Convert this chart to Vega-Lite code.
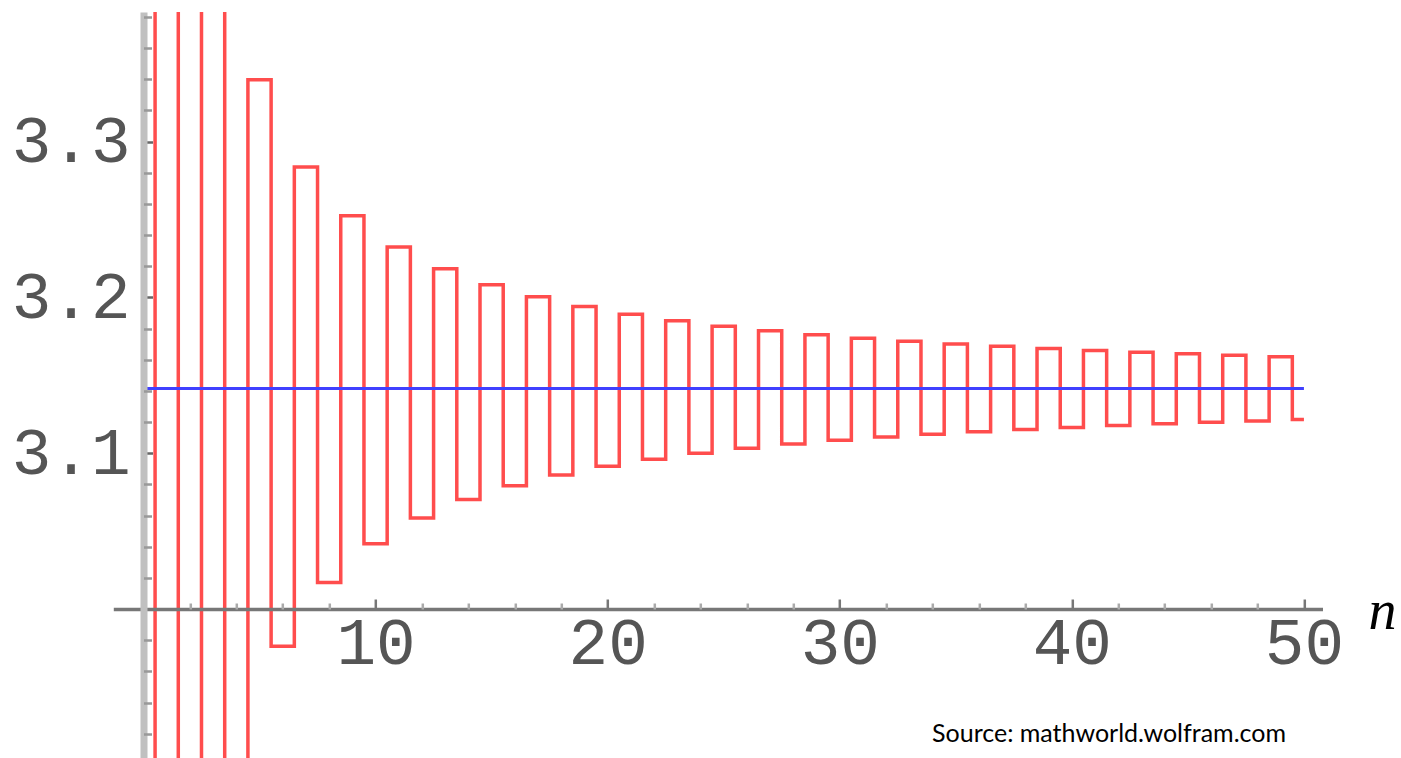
{
  "$schema": "https://vega.github.io/schema/vega-lite/v6.json",
  "width": 1209.2,
  "height": 746,
  "autosize": "none",
  "padding": {"left": 113.3, "top": 12, "right": 78.5, "bottom": 0},
  "background": "white",
  "config": {"view": {"stroke": null}},
  "title": {
    "text": "Source: mathworld.wolfram.com",
    "orient": "bottom",
    "anchor": "end",
    "font": "Lato",
    "fontSize": 25,
    "fontWeight": "normal",
    "color": "#000000",
    "baseline": "alphabetic",
    "offset": -16,
    "dx": -110
  },
  "datasets": {
    "partial": [
      {"n": 0, "s": 0},
      {"n": 1, "s": 4.0},
      {"n": 2, "s": 2.666667},
      {"n": 3, "s": 3.466667},
      {"n": 4, "s": 2.895238},
      {"n": 5, "s": 3.339683},
      {"n": 6, "s": 2.976046},
      {"n": 7, "s": 3.283738},
      {"n": 8, "s": 3.017072},
      {"n": 9, "s": 3.252366},
      {"n": 10, "s": 3.04184},
      {"n": 11, "s": 3.232316},
      {"n": 12, "s": 3.058403},
      {"n": 13, "s": 3.218403},
      {"n": 14, "s": 3.070255},
      {"n": 15, "s": 3.208186},
      {"n": 16, "s": 3.079154},
      {"n": 17, "s": 3.200366},
      {"n": 18, "s": 3.08608},
      {"n": 19, "s": 3.194188},
      {"n": 20, "s": 3.091624},
      {"n": 21, "s": 3.189185},
      {"n": 22, "s": 3.096162},
      {"n": 23, "s": 3.185051},
      {"n": 24, "s": 3.099945},
      {"n": 25, "s": 3.181578},
      {"n": 26, "s": 3.103147},
      {"n": 27, "s": 3.178619},
      {"n": 28, "s": 3.105892},
      {"n": 29, "s": 3.176067},
      {"n": 30, "s": 3.10827},
      {"n": 31, "s": 3.173844},
      {"n": 32, "s": 3.110352},
      {"n": 33, "s": 3.17189},
      {"n": 34, "s": 3.112189},
      {"n": 35, "s": 3.17016},
      {"n": 36, "s": 3.113822},
      {"n": 37, "s": 3.168617},
      {"n": 38, "s": 3.115284},
      {"n": 39, "s": 3.167232},
      {"n": 40, "s": 3.116599},
      {"n": 41, "s": 3.165982},
      {"n": 42, "s": 3.117789},
      {"n": 43, "s": 3.164848},
      {"n": 44, "s": 3.118871},
      {"n": 45, "s": 3.163815},
      {"n": 46, "s": 3.119859},
      {"n": 47, "s": 3.16287},
      {"n": 48, "s": 3.120765},
      {"n": 49, "s": 3.162002},
      {"n": 50, "s": 3.121598}
    ],
    "limit": [{"x0": 0, "x1": 50, "pi": 3.141593}]
  },
  "layer": [
    {
      "data": {"name": "partial"},
      "mark": {"type": "line", "interpolate": "step", "color": "#ff4d4d", "strokeWidth": 3.5, "clip": true},
      "encoding": {
        "x": {
          "field": "n",
          "type": "quantitative",
          "scale": {"domain": [-1.3, 50.8], "nice": false, "zero": false},
          "axis": {
            "orient": "bottom",
            "offset": -149,
            "values": [10, 20, 30, 40, 50],
            "format": "d",
            "grid": false,
            "domain": true,
            "domainColor": "#777777",
            "domainWidth": 3.5,
            "ticks": true,
            "tickColor": "#777777",
            "tickWidth": 2.5,
            "tickSize": -10,
            "labelFont": "Liberation Mono",
            "labelFontSize": 66,
            "labelColor": "#555555",
            "labelBaseline": "alphabetic",
            "labelPadding": 64,
            "labelFlush": false,
            "labelOverlap": false,
            "title": "n",
            "titleFont": "Liberation Serif",
            "titleFontStyle": "italic",
            "titleFontWeight": "normal",
            "titleFontSize": 56,
            "titleColor": "#000000",
            "titleX": 1268.7,
            "titleY": 19,
            "titleAlign": "center",
            "titleBaseline": "alphabetic",
            "zindex": 1
          }
        },
        "y": {
          "field": "s",
          "type": "quantitative",
          "scale": {"domain": [2.9044, 3.3832], "nice": false, "zero": false},
          "axis": {
            "orient": "left",
            "offset": -30.2,
            "values": [3.1, 3.2, 3.3],
            "format": ".1f",
            "grid": false,
            "domain": true,
            "domainColor": "#c0c0c0",
            "domainWidth": 7,
            "ticks": true,
            "tickColor": "#666666",
            "tickWidth": 2.5,
            "tickSize": -9,
            "labelFont": "Liberation Mono",
            "labelFontSize": 66,
            "labelColor": "#555555",
            "labelBaseline": "middle",
            "labelPadding": 22.5,
            "labelFlush": false,
            "labelOverlap": false,
            "title": null,
            "zindex": 1
          }
        }
      }
    },
    {
      "data": {"name": "limit"},
      "mark": {"type": "rule", "color": "#4040ff", "strokeWidth": 3},
      "encoding": {
        "x": {
          "field": "x0",
          "type": "quantitative",
          "scale": {"domain": [-1.3, 50.8], "nice": false, "zero": false},
          "axis": {
            "orient": "bottom",
            "offset": -149,
            "values": [2, 4, 6, 8, 12, 14, 16, 18, 22, 24, 26, 28, 32, 34, 36, 38, 42, 44, 46, 48],
            "grid": false,
            "domain": false,
            "labels": false,
            "ticks": true,
            "tickColor": "#aaaaaa",
            "tickWidth": 2.5,
            "tickSize": -6,
            "title": null,
            "zindex": 1
          }
        },
        "x2": {"field": "x1"},
        "y": {
          "field": "pi",
          "type": "quantitative",
          "scale": {"domain": [2.9044, 3.3832], "nice": false, "zero": false},
          "axis": {
            "orient": "left",
            "offset": -30.2,
            "values": [2.92, 2.94, 2.96, 2.98, 3.02, 3.04, 3.06, 3.08, 3.12, 3.14, 3.16, 3.18, 3.22, 3.24, 3.26, 3.28, 3.32, 3.34, 3.36, 3.38],
            "grid": false,
            "domain": false,
            "labels": false,
            "ticks": true,
            "tickColor": "#999999",
            "tickWidth": 2.5,
            "tickSize": -8,
            "title": null,
            "zindex": 1
          }
        }
      }
    }
  ],
  "resolve": {"axis": {"x": "independent", "y": "independent"}}
}
